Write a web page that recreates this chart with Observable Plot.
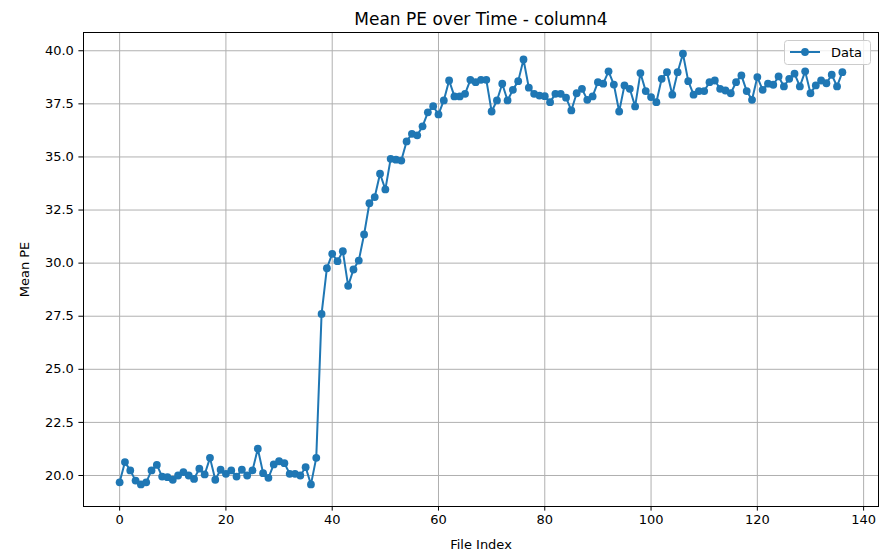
<!DOCTYPE html>
<html><head><meta charset="utf-8">
<script src="https://cdn.jsdelivr.net/npm/d3@7"></script>
<script src="https://cdn.jsdelivr.net/npm/@observablehq/plot@0.6"></script>
<style>body{margin:0;background:#fff} svg{display:block}</style>
</head><body><div id="chart"></div>
<script>
const meanPE = [
  19.68, 20.63, 20.24, 19.76, 19.58, 19.68, 20.24, 20.50, 19.95, 19.92,
  19.80, 20.00, 20.16, 20.00, 19.84, 20.32, 20.05, 20.83, 19.80, 20.27,
  20.08, 20.24, 19.95, 20.27, 20.00, 20.24, 21.26, 20.11, 19.89, 20.52,
  20.67, 20.58, 20.08, 20.08, 20.00, 20.39, 19.58, 20.83, 27.61, 29.76,
  30.44, 30.09, 30.56, 28.93, 29.70, 30.12, 31.35, 32.82, 33.11, 34.21,
  33.47, 34.91, 34.87, 34.83, 35.73, 36.09, 36.02, 36.44, 37.10, 37.39,
  37.00, 37.66, 38.60, 37.85, 37.85, 37.97, 38.63, 38.52, 38.63, 38.63,
  37.14, 37.66, 38.45, 37.66, 38.16, 38.57, 39.59, 38.26, 37.97, 37.89,
  37.86, 37.58, 37.97, 37.97, 37.79, 37.19, 38.00, 38.21, 37.69, 37.85,
  38.52, 38.45, 39.03, 38.41, 37.14, 38.37, 38.21, 37.38, 38.95, 38.10,
  37.82, 37.58, 38.68, 38.99, 37.93, 38.99, 39.86, 38.57, 37.93, 38.10,
  38.10, 38.52, 38.60, 38.21, 38.13, 38.00, 38.52, 38.84, 38.10, 37.69,
  38.76, 38.16, 38.45, 38.40, 38.79, 38.32, 38.68, 38.92, 38.32, 39.03,
  38.00, 38.37, 38.60, 38.47, 38.87, 38.32, 38.99
];
const fileIndex = meanPE.map((_, i) => i);
const xTicks = [0, 20, 40, 60, 80, 100, 120, 140];
const yTicks = [20, 22.5, 25, 27.5, 30, 32.5, 35, 37.5, 40];
const titleText = "Mean PE over Time - column4";
const xLabel = "File Index";
const yLabel = "Mean PE";
const seriesName = "Data";

const data = fileIndex.map((x, i) => ({x, y: meanPE[i]}));
const blue = "#1f77b4";

const chart = Plot.plot({
  width: 884, height: 551,
  marginLeft: 83, marginRight: 6, marginTop: 32, marginBottom: 45,
  style: {fontFamily: "'DejaVu Sans', sans-serif", fontSize: "13px", background: "white", color: "black"},
  x: {domain: [-6.8, 142.8]},
  y: {domain: [18.54, 40.86]},
  marks: [
    Plot.gridX(xTicks, {stroke: "#b0b0b0", strokeOpacity: 1, strokeWidth: 1}),
    Plot.gridY(yTicks, {stroke: "#b0b0b0", strokeOpacity: 1, strokeWidth: 1}),
    Plot.line(data, {x: "x", y: "y", stroke: blue, strokeWidth: 2}),
    Plot.dot(data, {x: "x", y: "y", r: 3.9, fill: blue, stroke: "none"}),
    Plot.frame({stroke: "black", strokeWidth: 1}),
    Plot.axisX(xTicks, {tickSize: 4.6, tickPadding: 4, fontSize: 13, label: xLabel, labelAnchor: "center", labelArrow: "none"}),
    Plot.axisY(yTicks, {tickSize: 4.6, tickPadding: 5, fontSize: 13, tickFormat: d3.format(".1f"), label: yLabel, labelAnchor: "center", labelArrow: "none", labelOffset: 64}),
    Plot.text([titleText], {frameAnchor: "top", dy: -20, fontSize: 17, fill: "black"})
  ]
});
document.getElementById("chart").appendChild(chart);

// legend box (upper right, matplotlib style)
const svg = d3.select(chart);
const lg = svg.append("g").attr("font-family", "'DejaVu Sans', sans-serif");
lg.append("rect").attr("x", 784.5).attr("y", 40.5).attr("width", 86).attr("height", 24)
  .attr("rx", 3).attr("fill", "white").attr("fill-opacity", 0.8).attr("stroke", "#cccccc");
lg.append("line").attr("x1", 790).attr("x2", 820).attr("y1", 52).attr("y2", 52)
  .attr("stroke", blue).attr("stroke-width", 2);
lg.append("circle").attr("cx", 805).attr("cy", 52).attr("r", 3.9).attr("fill", blue);
lg.append("text").attr("x", 831).attr("y", 52).attr("dy", "0.35em").attr("font-size", 13)
  .attr("text-anchor", "start").attr("fill", "black").text(seriesName);
</script>
</body></html>
